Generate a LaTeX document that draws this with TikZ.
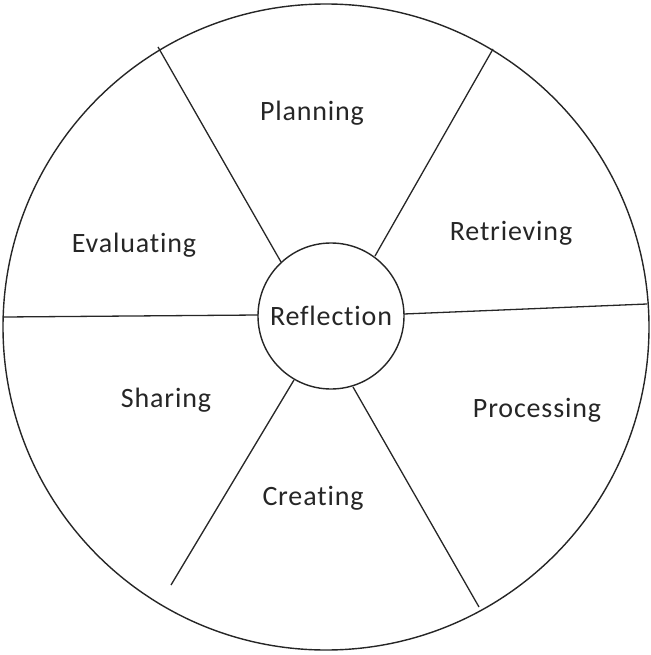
\documentclass[tikz,border=0pt]{standalone}
\usepackage{fontspec}
\setmainfont[Ligatures={NoCommon},LetterSpace=3]{Carlito}
\begin{document}
\begin{tikzpicture}[x=1pt,y=-1pt,
  ring/.style={draw=black!85,line width=1.4pt,circle,inner sep=0pt},
  spoke/.style={draw=black!85,line width=1.3pt},
  lbl/.style={font=\fontsize{28}{32}\selectfont,text=black!85,inner sep=0pt}]
\useasboundingbox (0,0) rectangle (650,655);
\node[ring,minimum size=646pt] (outer) at (326,327) {};
\node[ring,minimum size=146pt,fill=white,lbl] (refl) at (331,316) {Reflection};
% spokes
\coordinate (a1) at (281,262); \coordinate (a2) at (158,47);
\coordinate (b1) at (375,256); \coordinate (b2) at (493,49);
\coordinate (c1) at (258,315); \coordinate (c2) at (4,317);
\coordinate (d1) at (404,314); \coordinate (d2) at (647,304);
\coordinate (e1) at (294,380); \coordinate (e2) at (171,585);
\coordinate (f1) at (353,387); \coordinate (f2) at (479,607);
\draw[spoke] (a1) -- (a2);
\draw[spoke] (b1) -- (b2);
\draw[spoke] (c1) -- (c2);
\draw[spoke] (d1) -- (d2);
\draw[spoke] (e1) -- (e2);
\draw[spoke] (f1) -- (f2);
\node[lbl] (plan) at (312,113) {Planning};
\node[lbl] (retr) at (511,233) {Retrieving};
\node[lbl] (eval) at (134,245) {Evaluating};
\node[lbl] (shar) at (166,400) {Sharing};
\node[lbl] (proc) at (537,410) {Processing};
\node[lbl] (crea) at (313,498) {Creating};
\end{tikzpicture}
\end{document}
